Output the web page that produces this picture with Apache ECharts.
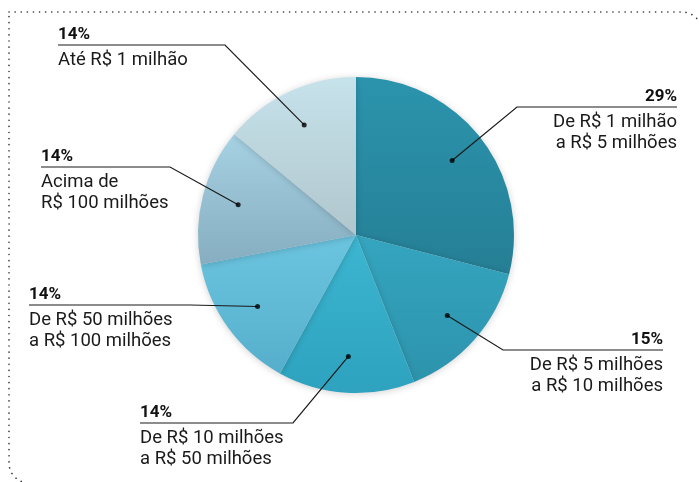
<!DOCTYPE html>
<html>
<head>
<meta charset="utf-8">
<script src="https://cdn.jsdelivr.net/npm/echarts@6/dist/echarts.min.js"></script>
<style>
  html, body { margin: 0; padding: 0; background: #fff; }
  #chart { width: 699px; height: 482px; }
</style>
</head>
<body>
<div id="chart"></div>
<script>
// faixas de faturamento, sentido horário a partir do topo
const categories = [
  'De R$ 1 milhão\na R$ 5 milhões',
  'De R$ 5 milhões\na R$ 10 milhões',
  'De R$ 10 milhões\na R$ 50 milhões',
  'De R$ 50 milhões\na R$ 100 milhões',
  'Acima de\nR$ 100 milhões',
  'Até R$ 1 milhão'
];
const values = [29, 15, 14, 14, 14, 14];
const percentLabels = ['29%', '15%', '14%', '14%', '14%', '14%'];

// cores (topo -> base de cada fatia)
const sliceColors = [
  ['#2b94ad', '#257f95'],
  ['#35a5bf', '#2d93ad'],
  ['#3cb6d1', '#2ea2be'],
  ['#6cc5e0', '#55aecb'],
  ['#a6d2e3', '#86adc0'],
  ['#c6e2eb', '#b1c6cd']
];

// posicao dos rotulos: [y do sublinhado, x do cotovelo, x da ponta, lado]
const labelPos = [
  [107, 517, 677, 'right'],
  [350, 503, 663, 'right'],
  [423, 293, 140, 'left'],
  [305, 190, 29, 'left'],
  [167, 170, 41, 'left'],
  [45, 225, 58, 'left']
];

const CENTER = [356, 235];
const RADIUS = 158;
const DOT = 0.77; // raio relativo dos pontos

const total = values.reduce((a, b) => a + b, 0);
const midPoints = [];
let acc = 0;
values.forEach(v => { midPoints.push(acc + v / 2); acc += v; });

const chart = echarts.init(document.getElementById('chart'));

const option = {
  backgroundColor: '#fff',
  animation: false,
  textStyle: { fontFamily: 'Roboto' },
  polar: { center: CENTER, radius: RADIUS },
  angleAxis: { type: 'value', min: 0, max: total, startAngle: 90, clockwise: true, show: false },
  radiusAxis: { type: 'value', min: 0, max: 1, show: false },
  graphic: [{
    type: 'rect',
    silent: true,
    shape: { x: 9, y: 12, width: 693, height: 471, r: [0, 20, 0, 20] },
    style: { fill: 'none', stroke: '#333', lineWidth: 1.6, lineDash: [0.1, 6], lineCap: 'round' }
  }],
  series: [
    {
      type: 'pie',
      center: CENTER,
      radius: RADIUS,
      startAngle: 90,
      clockwise: true,
      silent: true,
      z: 1,
      itemStyle: {
        shadowBlur: 7,
        shadowColor: 'rgba(0,0,0,0.18)',
        shadowOffsetY: 1
      },
      label: { show: false },
      labelLine: { show: false },
      data: values.map((v, i) => ({
        value: v,
        name: categories[i],
        itemStyle: {
          color: new echarts.graphic.LinearGradient(0, 0, 0, 1, [
            { offset: 0, color: sliceColors[i][0] },
            { offset: 1, color: sliceColors[i][1] }
          ])
        }
      }))
    },
    {
      // pizza invisivel só para os rótulos, com raio até os pontos
      type: 'pie',
      center: CENTER,
      radius: RADIUS * DOT,
      startAngle: 90,
      clockwise: true,
      avoidLabelOverlap: false,
      silent: true,
      z: 4,
      itemStyle: { color: 'rgba(0,0,0,0)' },
      label: {
        show: true,
        position: 'outside',
        color: '#1a1a1a',
        formatter: p => '{p|' + percentLabels[p.dataIndex] + '}\n{d|' +
          categories[p.dataIndex].split('\n').join('}\n{d|') + '}',
        rich: {
          p: { fontFamily: 'Roboto', fontWeight: 'bold', fontSize: 17, lineHeight: 29, color: '#111' },
          d: { fontFamily: 'Roboto', fontSize: 18.5, lineHeight: 21, color: '#1a1a1a' }
        }
      },
      labelLine: {
        show: true,
        lineStyle: { color: '#1a1a1a', width: 1.2 }
      },
      labelLayout: function (params) {
        const i = params.dataIndex;
        const lp = labelPos[i];
        const a = midPoints[i] / total * Math.PI * 2;
        const start = [CENTER[0] + Math.sin(a) * RADIUS * DOT, CENTER[1] - Math.cos(a) * RADIUS * DOT];
        return {
          x: lp[2],
          y: lp[0] - 24.5,
          align: lp[3],
          verticalAlign: 'top',
          labelLinePoints: [start, [lp[1], lp[0]], [lp[2], lp[0]]]
        };
      },
      data: values.map((v, i) => ({ value: v, name: categories[i] }))
    },
    {
      type: 'scatter',
      coordinateSystem: 'polar',
      symbolSize: 5,
      silent: true,
      itemStyle: { color: '#000' },
      data: midPoints.map(m => [DOT, m]),
      z: 5
    }
  ]
};

chart.setOption(option);
</script>
</body>
</html>
